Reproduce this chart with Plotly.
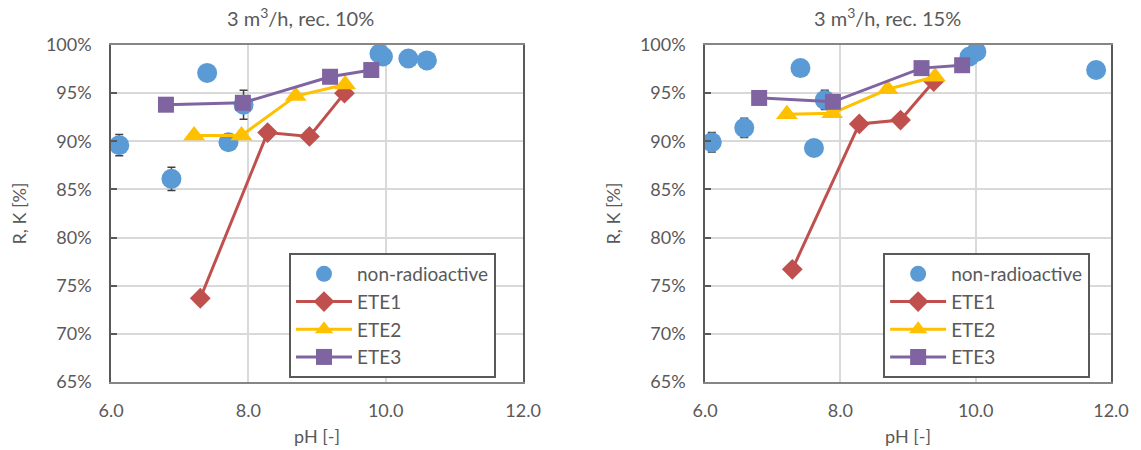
import plotly.graph_objects as go

# --- data: 3 m3/h, recovery 10 % ---
nr10_ph = [6.12, 6.88, 7.40, 7.71, 7.93, 9.91, 9.96, 10.33, 10.60]
nr10_r = [89.6, 86.1, 97.1, 89.9, 93.8, 99.1, 98.8, 98.6, 98.4]
nr10_err = [1.1, 1.2, 0, 0, 1.5, 0, 0, 0, 0]
ete1_10_ph = [7.30, 8.28, 8.89, 9.40]
ete1_10_r = [73.7, 90.9, 90.5, 95.0]
ete2_10_ph = [7.21, 7.90, 8.69, 9.41]
ete2_10_r = [90.6, 90.6, 94.7, 95.9]
ete3_10_ph = [6.80, 7.92, 9.19, 9.79]
ete3_10_r = [93.8, 94.0, 96.7, 97.4]

# --- data: 3 m3/h, recovery 15 % ---
nr15_ph = [6.10, 6.58, 7.41, 7.61, 7.77, 9.91, 10.01, 11.78]
nr15_r = [89.9, 91.4, 97.6, 89.3, 94.3, 98.8, 99.3, 97.4]
nr15_err = [1.0, 1.0, 0, 0, 1.0, 0, 0, 0]
ete1_15_ph = [7.29, 8.28, 8.89, 9.38]
ete1_15_r = [76.7, 91.8, 92.2, 96.2]
ete2_15_ph = [7.21, 7.88, 8.70, 9.40]
ete2_15_r = [92.8, 92.9, 95.4, 96.7]
ete3_15_ph = [6.80, 7.89, 9.20, 9.80]
ete3_15_r = [94.5, 94.1, 97.6, 97.9]

titles = ["3 m<sup>3</sup>/h, rec. 10%", "3 m<sup>3</sup>/h, rec. 15%"]
y_ticks = [65, 70, 75, 80, 85, 90, 95, 100]
y_ticklabels = [f"{v}%" for v in y_ticks]
x_ticks = [6.0, 8.0, 10.0, 12.0]
x_ticklabels = [f"{v:.1f}" for v in x_ticks]

BLUE = "#5B9BD5"
RED = "#C0504D"
YELLOW = "#FFC000"
PURPLE = "#8064A2"
TEXT = "#595959"
FONT = "Lato, Liberation Sans, sans-serif"

fig = go.Figure()

panels = [
    dict(nr=(nr10_ph, nr10_r, nr10_err), e1=(ete1_10_ph, ete1_10_r),
         e2=(ete2_10_ph, ete2_10_r), e3=(ete3_10_ph, ete3_10_r),
         xa="x", ya="y", legend="legend"),
    dict(nr=(nr15_ph, nr15_r, nr15_err), e1=(ete1_15_ph, ete1_15_r),
         e2=(ete2_15_ph, ete2_15_r), e3=(ete3_15_ph, ete3_15_r),
         xa="x2", ya="y2", legend="legend2"),
]

for p in panels:
    ph, r, err = p["nr"]
    fig.add_trace(go.Scatter(
        x=ph, y=r, mode="markers", name="non-radioactive",
        marker=dict(color=BLUE, size=20, symbol="circle"),
        error_y=dict(type="data", array=err, visible=True,
                     color="#404040", thickness=1.5, width=4),
        xaxis=p["xa"], yaxis=p["ya"], legend=p["legend"]))
    fig.add_trace(go.Scatter(
        x=p["e1"][0], y=p["e1"][1], mode="lines+markers", name="ETE1",
        line=dict(color=RED, width=3),
        marker=dict(color=RED, size=16, symbol="diamond"),
        xaxis=p["xa"], yaxis=p["ya"], legend=p["legend"]))
    fig.add_trace(go.Scatter(
        x=p["e2"][0], y=p["e2"][1], mode="lines+markers", name="ETE2",
        line=dict(color=YELLOW, width=3),
        marker=dict(color=YELLOW, size=19, symbol="triangle-up"),
        xaxis=p["xa"], yaxis=p["ya"], legend=p["legend"]))
    fig.add_trace(go.Scatter(
        x=p["e3"][0], y=p["e3"][1], mode="lines+markers", name="ETE3",
        line=dict(color=PURPLE, width=3),
        marker=dict(color=PURPLE, size=16, symbol="square"),
        xaxis=p["xa"], yaxis=p["ya"], legend=p["legend"]))

x_common = dict(range=[6, 12], tickvals=x_ticks, ticktext=x_ticklabels,
                showgrid=True, gridcolor="#D9D9D9", gridwidth=1.5,
                showline=True, linecolor="#868686", linewidth=1.5, mirror=True,
                ticks="", zeroline=False, automargin=False,
                ticklabelstandoff=12,
                tickfont=dict(family=FONT, size=18, color=TEXT),
                title=dict(text="pH [-]", font=dict(family=FONT, size=18, color=TEXT),
                           standoff=10))
y_common = dict(range=[65, 100], tickvals=y_ticks, ticktext=y_ticklabels,
                showgrid=True, gridcolor="#D9D9D9", gridwidth=1.5,
                showline=True, linecolor="#595959", linewidth=1.5, mirror=True,
                ticks="inside", ticklen=6, tickcolor="#595959", tickwidth=1.5,
                zeroline=False, automargin=False,
                ticklabelstandoff=14,
                tickfont=dict(family=FONT, size=18, color=TEXT),
                title=dict(text="R, K [%]", font=dict(family=FONT, size=18, color=TEXT),
                           standoff=15))

legend_common = dict(bgcolor="white", bordercolor="#595959", borderwidth=2,
                     font=dict(family=FONT, size=19, color=TEXT),
                     xanchor="left", yanchor="top", itemwidth=56,
                     tracegroupgap=0)

fig.update_layout(
    width=1141, height=450,
    margin=dict(l=0, r=0, t=0, b=0, autoexpand=False),
    paper_bgcolor="white", plot_bgcolor="white",
    xaxis=dict(domain=[0.0973, 0.4584], anchor="y", **x_common),
    yaxis=dict(domain=[0.1511, 0.9], anchor="x", **y_common),
    xaxis2=dict(domain=[0.6179, 0.9737], anchor="y2", **x_common),
    yaxis2=dict(domain=[0.1511, 0.9], anchor="x2", **y_common),
    legend=dict(x=0.2533, y=0.4378, **legend_common),
    legend2=dict(x=0.774, y=0.4378, **legend_common),
    annotations=[
        dict(text=titles[0], x=0.263, y=0.962, xref="paper", yref="paper",
             xanchor="center", yanchor="middle",
             showarrow=False, font=dict(family=FONT, size=20, color=TEXT)),
        dict(text=titles[1], x=0.778, y=0.962, xref="paper", yref="paper",
             xanchor="center", yanchor="middle",
             showarrow=False, font=dict(family=FONT, size=20, color=TEXT)),
    ],
)

fig.write_html("out.html")
